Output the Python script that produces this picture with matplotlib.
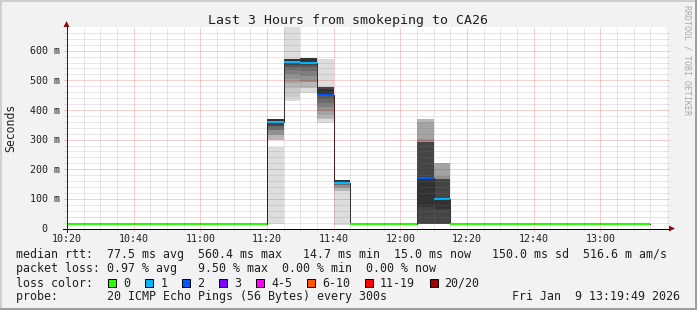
import numpy as np
import matplotlib
matplotlib.use("Agg")
import matplotlib.pyplot as plt
import matplotlib.transforms as mtransforms
from matplotlib.patches import Rectangle, Polygon
from matplotlib.lines import Line2D

W, H = 697, 310
MONO = "DejaVu Sans Mono"

title = "Last 3 Hours from smokeping to CA26"
start_time = "10:19:49"
span_min = 180
step_min = 5
first_step = "10:20"
y_max = 680

# median rtt of each 5 minute step (ms)
median_ms = [15.0, 15.0, 14.9, 15.0, 15.0, 14.7, 15.0, 15.0, 15.0, 15.1, 15.0, 15.0,
             360.8, 560.4, 557.0, 452.0, 152.6,
             15.0, 15.0, 15.0, 15.0,
             169.0, 101.0,
             15.0, 15.0, 15.0, 15.1, 15.0, 15.0, 14.9, 15.0, 15.0, 15.0, 15.0, 15.0]
# lost pings (out of 20) of each step
loss_pings = [0, 0, 0, 0, 0, 0, 0, 0, 0, 0, 0, 0,
              1, 1, 1, 2, 1,
              0, 0, 0, 0,
              2, 1,
              0, 0, 0, 0, 0, 0, 0, 0, 0, 0, 0, 0]

# smoke bands (low ms, high ms, density 1..10) of the steps with spread
smoke_1120 = [(16, 275, 1), (300, 367, 3), (314, 367, 5), (331, 367, 7), (345, 367, 9), (358, 368, 10)]
smoke_1125 = [(430, 720, 1), (444, 571, 2), (473, 571, 3), (490, 571, 4), (505, 571, 5),
              (520, 571, 6), (535, 571, 7), (545, 571, 8), (553, 571, 9), (560, 571, 10)]
smoke_1130 = [(457, 577, 1), (475, 577, 3), (494, 577, 5), (515, 577, 6), (532, 577, 7),
              (545, 577, 8), (552, 577, 9), (557, 576, 10)]
smoke_1135 = [(356, 571, 1), (370, 477, 3), (383, 477, 4), (395, 477, 5), (410, 477, 6),
              (425, 477, 7), (438, 477, 8), (447, 477, 9), (452, 472, 10)]
smoke_1140 = [(12, 162, 1), (128, 162, 3), (138, 162, 5), (146, 162, 7), (150, 162, 9), (153, 162, 10)]
smoke_1205 = [(15, 369, 3), (15, 360, 4), (15, 302, 5), (15, 291, 9), (71, 172, 10)]
smoke_1210 = [(15, 221, 4), (15, 178, 5), (15, 167, 9), (65, 104, 10)]
smoke_steps = {"11:20": smoke_1120, "11:25": smoke_1125, "11:30": smoke_1130, "11:35": smoke_1135,
               "11:40": smoke_1140, "12:05": smoke_1205, "12:10": smoke_1210}

loss_labels = ["0", "1", "2", "3", "4-5", "6-10", "11-19", "20/20"]
loss_upper = [0, 1, 2, 3, 5, 10, 19, 20]
loss_colors = ["#26ff00", "#00b8ff", "#0059ff", "#7e00ff", "#ff00ff", "#ff5500", "#ff0000", "#a10000"]

line_rtt = "median rtt:  77.5 ms avg  560.4 ms max   14.7 ms min  15.0 ms now   150.0 ms sd  516.6 m am/s"
line_loss = "packet loss: 0.97 % avg   9.50 % max  0.00 % min  0.00 % now"
line_probe = "probe:       20 ICMP Echo Pings (56 Bytes) every 300s"
stamp = "Fri Jan  9 13:19:49 2026"
watermark = "RRDTOOL / TOBI OETIKER"


def minutes(s):
    parts = [int(p) for p in s.split(":")]
    return parts[0] * 60 + parts[1] + (parts[2] / 60 if len(parts) > 2 else 0)


def smoke_gray(level):
    v = int(190 / 10 * (10 - level)) + 50
    return "#%02x%02x%02x" % (v, v, v)


fig = plt.figure(figsize=(W / 100, H / 100), dpi=100, facecolor="#f2f2f2")
PX = mtransforms.Affine2D().scale(1 / W, -1 / H).translate(0, 1) + fig.transFigure

# frame shading
fig.add_artist(Rectangle((0, 0), W, 2, transform=PX, color="#cfcfcf", lw=0))
fig.add_artist(Rectangle((0, 0), 2, H, transform=PX, color="#cfcfcf", lw=0))
fig.add_artist(Rectangle((0, H - 2), W, 2, transform=PX, color="#9e9e9e", lw=0))
fig.add_artist(Rectangle((W - 2, 0), 2, H, transform=PX, color="#9e9e9e", lw=0))

pl, pr, pt, pb = 66.5, 666.5, 27.0, 228.5
ax = fig.add_axes([pl / W, 1 - pb / H, (pr - pl) / W, (pb - pt) / H])
ax.set_facecolor("white")
for s in ax.spines.values():
    s.set_visible(False)
ax.set_xticks([])
ax.set_yticks([])

x0 = minutes(start_time)
x1 = x0 + span_min
ax.set_xlim(x0, x1)
ax.set_ylim(0, y_max)

t = minutes(first_step) + step_min * np.arange(len(median_ms))
med = np.array(median_ms)
loss = np.array(loss_pings)

# smoke
for when, bands in smoke_steps.items():
    for lo, hi, lvl in bands:
        ax.bar(minutes(when), hi - lo, bottom=lo, width=step_min, align="edge",
               color=smoke_gray(lvl), linewidth=0, antialiased=False, zorder=2)

# median line
edges = np.r_[t, t[-1] + step_min]
ax.step(edges, np.r_[med, med[-1]], where="post", color="#202020", lw=0.72, zorder=3)

# median coloured by loss
sw = 3.5
bucket = np.searchsorted(loss_upper, loss)
ax.bar(t, 2 * sw, bottom=med - sw, width=step_min, align="edge",
       color=[loss_colors[b] for b in bucket], linewidth=0, antialiased=False, zorder=4)

# grid on top
px_min = span_min / (pr - pl)
px_ms = y_max / (pb - pt)
y_minor = [v for v in range(20, y_max, 20) if v % 100]
y_major = list(range(100, y_max, 100))
x_minor = [v for v in np.arange(minutes("10:25"), x1, 5) if (v - minutes("10:20")) % 20]
x_major = list(np.arange(minutes("10:20"), x1, 20))
dots = (0, (1, 1))
ax.hlines(y_minor, x0 - 2 * px_min, x1 + 2 * px_min, colors="#7d7d7d", alpha=0.36, lw=0.72,
          linestyles=dots, zorder=6, clip_on=False)
ax.vlines(x_minor, -2 * px_ms, y_max, colors="#7d7d7d", alpha=0.36, lw=0.72,
          linestyles=dots, zorder=6, clip_on=False)
ax.hlines(y_major, x0 - 2 * px_min, x1 + 2 * px_min, colors="#e00000", alpha=0.38, lw=0.72,
          linestyles=dots, zorder=6, clip_on=False)
ax.vlines(x_major, -2 * px_ms, y_max, colors="#e00000", alpha=0.38, lw=0.72,
          linestyles=dots, zorder=6, clip_on=False)

# axes and arrows
fig.add_artist(Line2D([63, 669], [pb, pb], transform=PX, color="black", lw=0.72))
fig.add_artist(Line2D([pl, pl], [232, 26], transform=PX, color="#4a1414", lw=0.72))
fig.add_artist(Polygon([[pl, 21], [pl - 3, 27], [pl + 3, 27]], closed=True, transform=PX,
                       color="#8b1010", lw=0))
fig.add_artist(Polygon([[675, pb], [669, pb - 3], [669, pb + 3]], closed=True, transform=PX,
                       color="#8b1010", lw=0))

# axis labels
for v in [0] + y_major:
    y = pb - v / px_ms
    lab = "%d m" % v if v else "0  "
    fig.text(59.5, y + 3.6, lab, transform=PX, ha="right", va="baseline",
             fontsize=7.2, family=MONO, color="#202020")
for v in x_major:
    x = pl + (v - x0) / px_min
    lab = "%02d:%02d" % (int(v) // 60, int(v) % 60)
    fig.text(x, 241.6, lab, transform=PX, ha="center", va="baseline",
             fontsize=7.2, family=MONO, color="#202020")

fig.text(348.5, 24, title, transform=PX, ha="center", va="baseline", fontsize=9.57,
         family=MONO, color="#202020")
fig.text(11, 127.5, "Seconds", transform=PX, ha="center", va="center", rotation=90,
         fontsize=8.3, family=MONO, color="#202020")
fig.text(687, 60, watermark, transform=PX, ha="center", va="center", rotation=270,
         fontsize=6, family=MONO, color="#a8a8a8")

# legend
lx = 16.4
fs = 8.4
fig.text(lx, 258.3, line_rtt, transform=PX, va="baseline", fontsize=fs, family=MONO, color="#202020")
fig.text(lx, 272.3, line_loss, transform=PX, va="baseline", fontsize=fs, family=MONO, color="#202020")
fig.text(lx, 286.7, "loss color:", transform=PX, va="baseline", fontsize=fs, family=MONO, color="#202020")
fig.text(lx, 300.1, line_probe, transform=PX, va="baseline", fontsize=fs, family=MONO, color="#202020")
fig.text(680.5, 300.1, stamp, transform=PX, ha="right", va="baseline", fontsize=fs, family=MONO,
         color="#202020")
bx = 108.4
for lab, col in zip(loss_labels, loss_colors):
    fig.add_artist(Rectangle((bx, 279), 8, 8, transform=PX, facecolor=col, edgecolor="black", lw=0.72))
    fig.text(bx + 15, 286.7, lab, transform=PX, va="baseline", fontsize=fs, family=MONO, color="#202020")
    bx += 30 + 6.95 * len(lab)

fig.savefig("out.png", dpi=100, facecolor=fig.get_facecolor())
